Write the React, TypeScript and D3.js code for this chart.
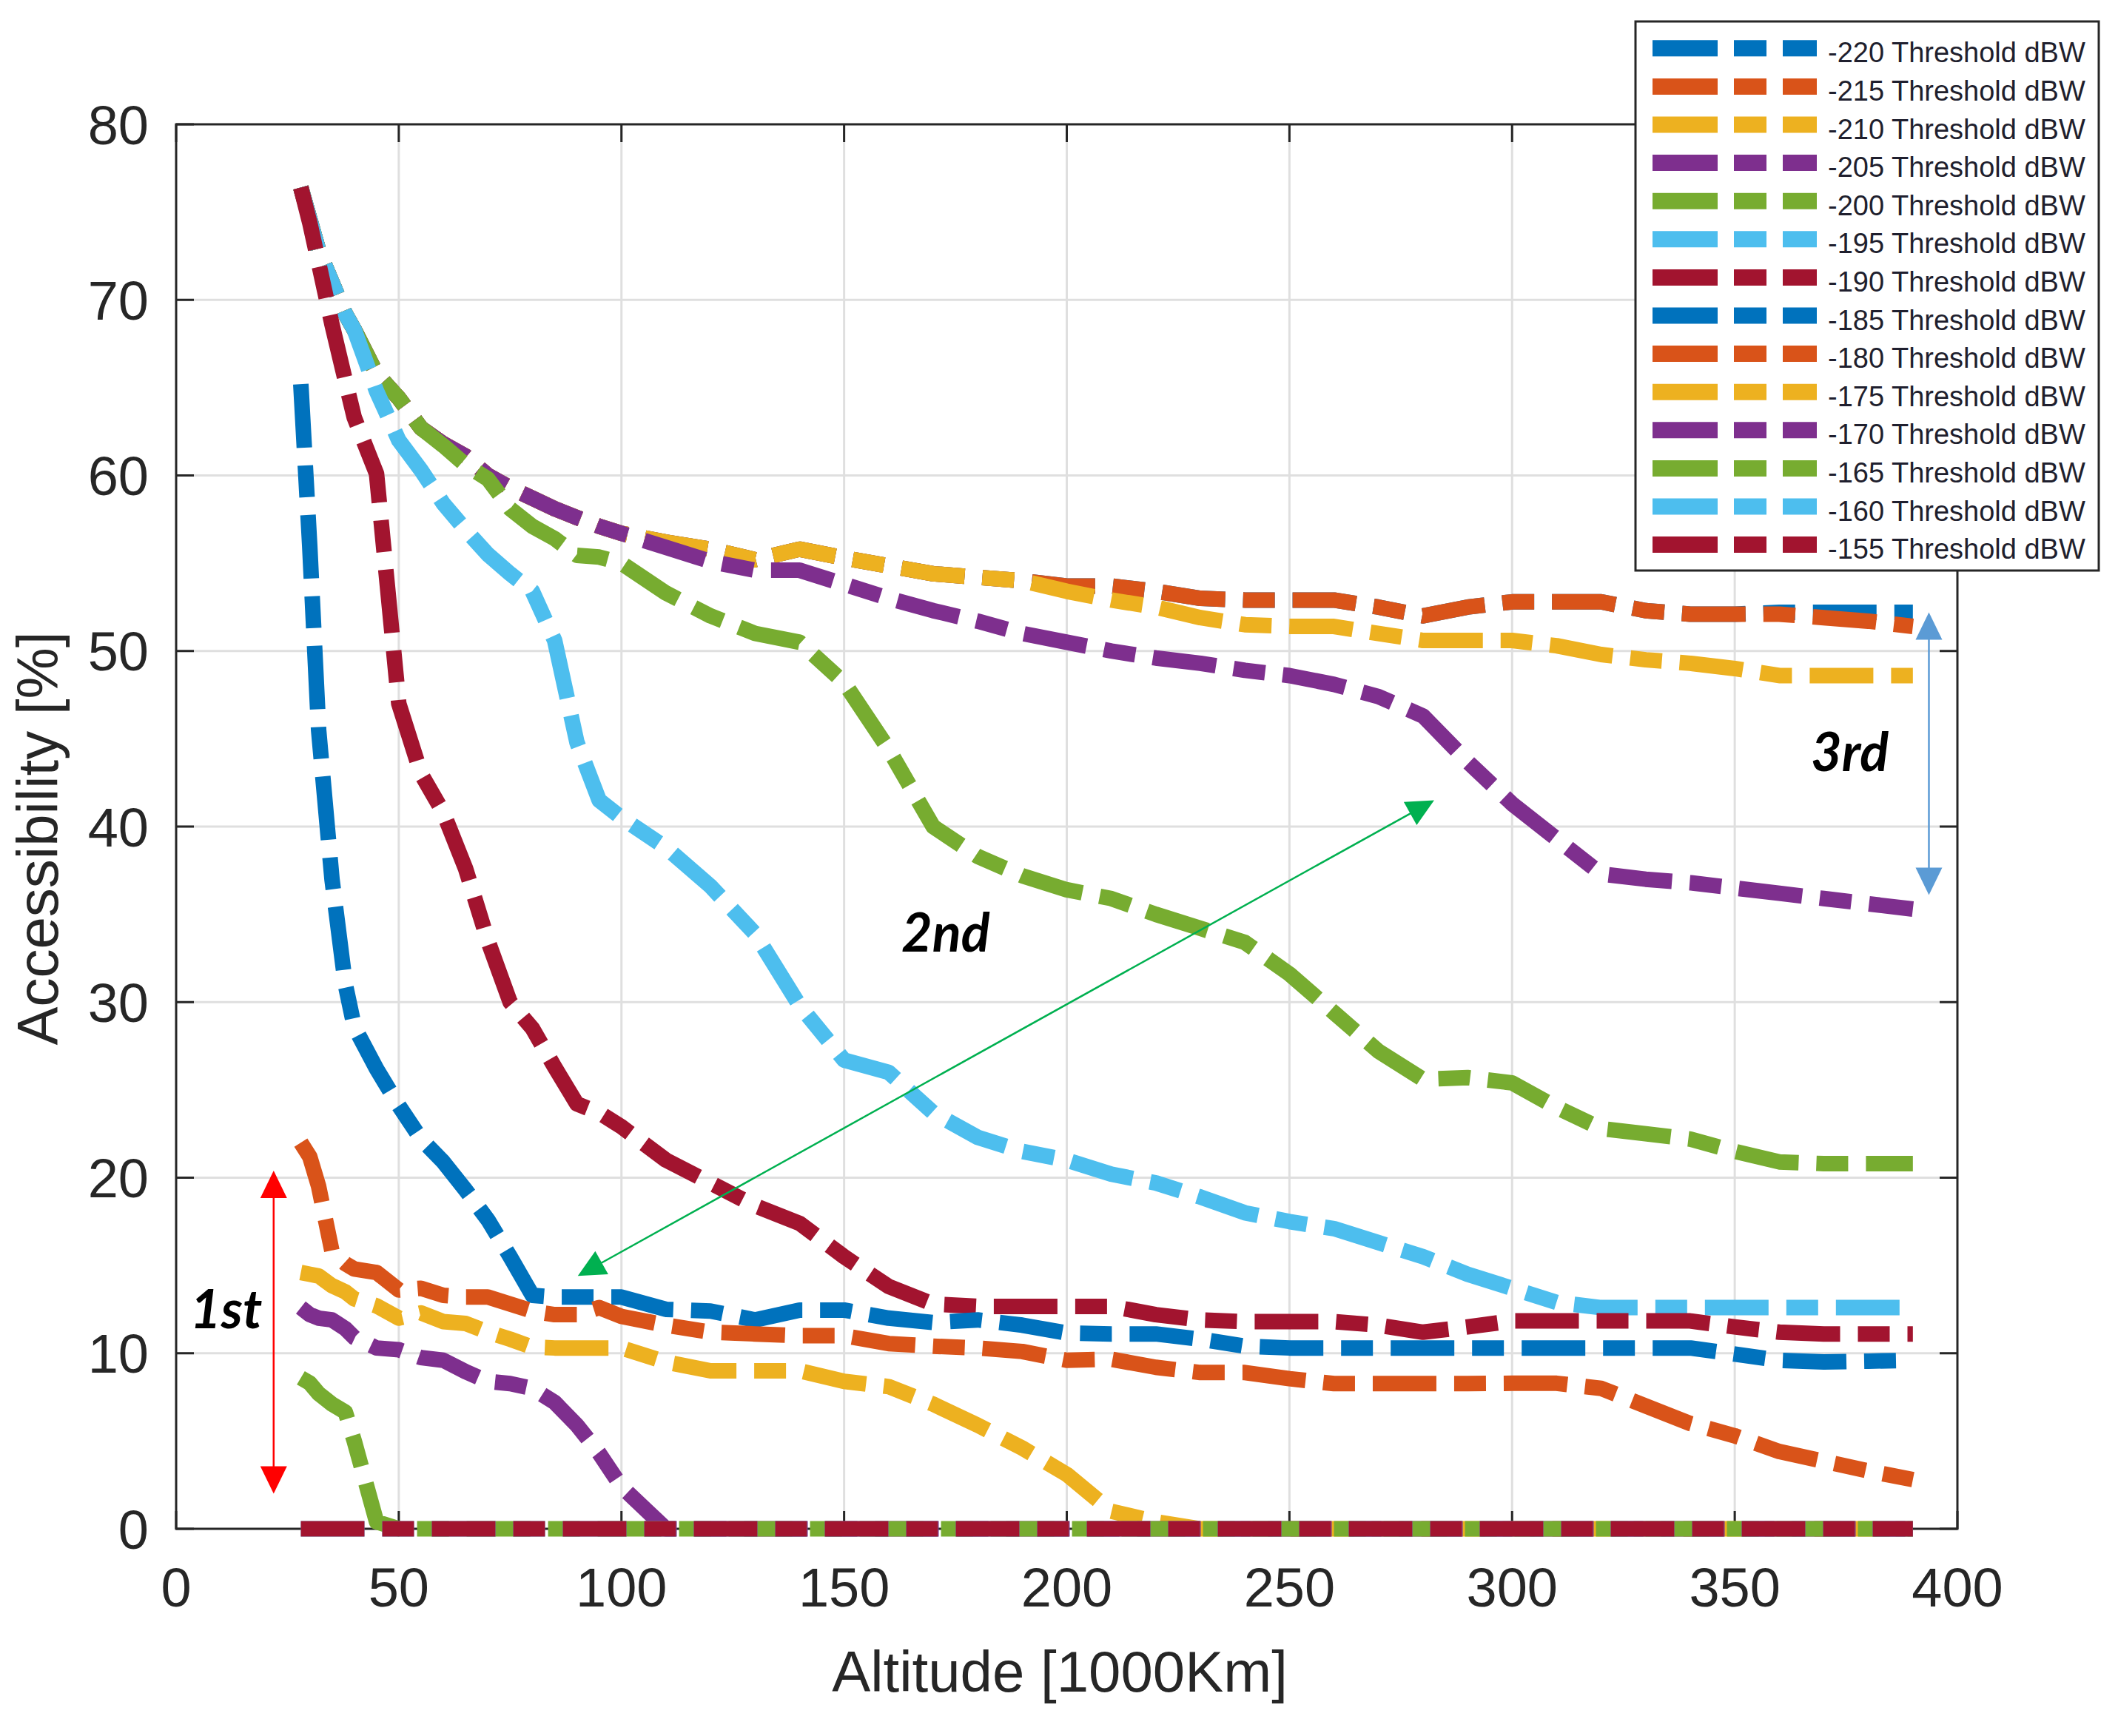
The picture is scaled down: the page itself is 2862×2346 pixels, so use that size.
import React from "react";
import * as d3 from "d3";

// altitude samples [1000 km]
const altitude = [
  28, 30, 32, 35, 38, 40, 45, 50, 55, 60, 65, 70, 75, 80, 85, 90, 95, 100, 110,
  120, 130, 140, 150, 160, 170, 180, 190, 200, 210, 220, 230, 240, 250, 260,
  270, 280, 290, 300, 310, 320, 330, 340, 350, 360, 370, 380, 390,
];

// accessibility [%] per threshold
const acc220 = [
  76.4, 74.6, 72.8, 71.0, 69.2, 68.3, 65.8, 64.4, 62.7, 61.8, 61.1, 60.0, 59.3,
  58.7, 58.1, 57.6, 57.1, 56.7, 56.2, 55.8, 55.2, 55.8, 55.3, 54.85, 54.4, 54.2,
  54.0, 53.7, 53.7, 53.4, 53.0, 52.9, 52.9, 52.9, 52.5, 52.0, 52.5, 52.8, 52.8,
  52.8, 52.3, 52.1, 52.1, 52.2, 52.2, 52.2, 52.2,
];
const acc215 = [
  76.4, 74.6, 72.8, 71.0, 69.2, 68.3, 65.8, 64.4, 62.7, 61.8, 61.1, 60.0, 59.3,
  58.7, 58.1, 57.6, 57.1, 56.7, 56.2, 55.8, 55.2, 55.8, 55.3, 54.85, 54.4, 54.2,
  54.0, 53.7, 53.7, 53.4, 53.0, 52.9, 52.9, 52.9, 52.5, 52.0, 52.5, 52.8, 52.8,
  52.8, 52.3, 52.1, 52.1, 52.1, 51.9, 51.7, 51.4,
];
const acc210 = [
  76.4, 74.6, 72.8, 71.0, 69.2, 68.3, 65.8, 64.4, 62.7, 61.8, 61.1, 60.0, 59.3,
  58.7, 58.1, 57.6, 57.1, 56.7, 56.2, 55.8, 55.2, 55.8, 55.3, 54.85, 54.4, 54.2,
  54.0, 53.4, 52.9, 52.5, 51.9, 51.5, 51.4, 51.4, 51.0, 50.6, 50.6, 50.6, 50.3,
  49.8, 49.5, 49.3, 49.0, 48.6, 48.6, 48.6, 48.6,
];
const acc205 = [
  76.4, 74.6, 72.8, 71.0, 69.2, 68.3, 65.8, 64.4, 62.7, 61.8, 61.1, 60.0, 59.3,
  58.7, 58.1, 57.6, 57.1, 56.7, 55.9, 55.1, 54.6, 54.6, 53.8, 53.0, 52.3, 51.7,
  51.0, 50.5, 50.0, 49.6, 49.3, 48.9, 48.6, 48.1, 47.4, 46.3, 43.7, 41.3, 39.3,
  37.3, 37.0, 36.8, 36.5, 36.2, 35.9, 35.6, 35.3,
];
const acc200 = [
  76.4, 74.6, 72.8, 71.0, 69.2, 68.3, 65.8, 64.4, 62.7, 61.7, 60.6, 59.8, 58.1,
  57.1, 56.4, 55.45, 55.35, 55.0, 53.3, 52.0, 51.0, 50.5, 48.2, 44.4, 40.0, 38.3,
  37.2, 36.4, 35.9, 35.0, 34.2, 33.4, 31.6, 29.4, 27.2, 25.6, 25.7, 25.4, 24.0,
  22.8, 22.5, 22.2, 21.5, 20.9, 20.8, 20.8, 20.8,
];
const acc195 = [
  76.4, 74.6, 72.8, 71.0, 69.2, 68.3, 64.8, 62.0, 60.3, 58.4, 56.9, 55.5, 54.4,
  53.4, 50.6, 44.8, 41.5, 40.5, 38.8, 36.6, 33.9, 29.8, 26.7, 26.0, 23.7, 22.3,
  21.5, 21.0, 20.2, 19.7, 18.9, 18.0, 17.5, 17.1, 16.3, 15.5, 14.5, 13.7, 12.9,
  12.6, 12.6, 12.6, 12.6, 12.6, 12.6, 12.6, 12.6,
];
const acc190 = [
  76.4, 74.4, 72.1, 68.6, 65.4, 63.3, 60.1, 47.0, 43.0, 40.8, 37.6, 33.5, 30.0,
  28.5, 26.3, 24.2, 23.7, 22.9, 21.0, 19.7, 18.4, 17.4, 15.5, 13.8, 12.8, 12.67,
  12.67, 12.67, 12.67, 12.2, 11.9, 11.8, 11.8, 11.8, 11.6, 11.2, 11.5, 11.84,
  11.84, 11.84, 11.84, 11.84, 11.5, 11.2, 11.1, 11.1, 11.1,
];
const acc185 = [
  65.2, 56.0, 45.5, 37.0, 31.0, 28.6, 26.2, 24.1, 22.2, 20.9, 19.3, 17.6, 15.5,
  13.3, 13.2, 13.2, 13.2, 13.2, 12.5, 12.4, 11.9, 12.46, 12.46, 12.0, 11.75,
  11.9, 11.6, 11.15, 11.1, 11.1, 10.8, 10.4, 10.3, 10.3, 10.3, 10.3, 10.3, 10.3,
  10.3, 10.3, 10.3, 10.3, 9.95, 9.6, 9.5, 9.55, 9.6,
];
const acc180 = [
  22.0, 21.2, 19.5, 15.8, 15.1, 14.8, 14.6, 13.6, 13.7, 13.3, 13.2, 13.2, 12.8,
  12.4, 12.2, 12.2, 12.6, 12.1, 11.6, 11.2, 11.1, 11.0, 11.0, 10.55, 10.4, 10.3,
  10.1, 9.6, 9.66, 9.2, 8.9, 8.9, 8.55, 8.27, 8.27, 8.27, 8.27, 8.29, 8.29, 8.0,
  7.0, 6.0, 5.3, 4.4, 3.85, 3.3, 2.8,
];
const acc175 = [
  14.6, 14.5, 14.4, 13.85, 13.5, 13.1, 12.7, 12.0, 12.3, 11.8, 11.7, 11.2, 10.8,
  10.35, 10.3, 10.3, 10.3, 10.3, 9.5, 9.0, 9.0, 9.0, 8.4, 8.1, 7.1, 5.9, 4.6,
  3.1, 1.0, 0.4, 0, 0, 0, 0, 0, 0, 0, 0, 0, 0, 0, 0, 0, 0, 0, 0, 0,
];
const acc170 = [
  12.6, 12.2, 12.0, 11.9, 11.4, 10.9, 10.3, 10.2, 9.75, 9.6, 8.95, 8.4, 8.27,
  8.0, 7.2, 5.9, 4.3, 2.4, 0, 0, 0, 0, 0, 0, 0, 0, 0, 0, 0, 0, 0, 0, 0, 0, 0, 0,
  0, 0, 0, 0, 0, 0, 0, 0, 0, 0, 0,
];
const acc165 = [
  8.6, 8.3, 7.7, 7.1, 6.65, 5.0, 0.4, 0, 0, 0, 0, 0, 0, 0, 0, 0, 0, 0, 0, 0, 0,
  0, 0, 0, 0, 0, 0, 0, 0, 0, 0, 0, 0, 0, 0, 0, 0, 0, 0, 0, 0, 0, 0, 0, 0, 0, 0,
];
const acc160 = [
  0, 0, 0, 0, 0, 0, 0, 0, 0, 0, 0, 0, 0, 0, 0, 0, 0, 0, 0, 0, 0, 0, 0, 0, 0, 0,
  0, 0, 0, 0, 0, 0, 0, 0, 0, 0, 0, 0, 0, 0, 0, 0, 0, 0, 0, 0, 0,
];
const acc155 = [
  0, 0, 0, 0, 0, 0, 0, 0, 0, 0, 0, 0, 0, 0, 0, 0, 0, 0, 0, 0, 0, 0, 0, 0, 0, 0,
  0, 0, 0, 0, 0, 0, 0, 0, 0, 0, 0, 0, 0, 0, 0, 0, 0, 0, 0, 0, 0,
];

const thresholds = [
  -220, -215, -210, -205, -200, -195, -190, -185, -180, -175, -170, -165, -160,
  -155,
];
const seriesValues = [
  acc220, acc215, acc210, acc205, acc200, acc195, acc190, acc185, acc180,
  acc175, acc170, acc165, acc160, acc155,
];
const palette = [
  "#0072BD", "#D95319", "#EDB120", "#7E2F8E", "#77AC30", "#4DBEEE", "#A2142F",
];

const xTicks = [0, 50, 100, 150, 200, 250, 300, 350, 400];
const yTicks = [0, 10, 20, 30, 40, 50, 60, 70, 80];

const W = 2862;
const H = 2346;
const AXIS = "#262626";
const FONT = "'Liberation Sans', Arial, Helvetica, sans-serif";
const DASH = "86 24 43 24";

const x = d3.scaleLinear().domain([0, 400]).range([238, 2645]);
const y = d3.scaleLinear().domain([0, 80]).range([2066, 168]);

const line = d3
  .line<number>()
  .x((_, i) => x(altitude[i]))
  .y((d) => y(d));

// double headed arrow between two data points
function Arrow({
  from,
  to,
  color,
}: {
  from: [number, number];
  to: [number, number];
  color: string;
}) {
  const x1 = x(from[0]);
  const y1 = y(from[1]);
  const x2 = x(to[0]);
  const y2 = y(to[1]);
  const len = Math.hypot(x2 - x1, y2 - y1);
  const ux = (x2 - x1) / len;
  const uy = (y2 - y1) / len;
  const hl = 37;
  const hw = 18;
  const head = (tx: number, ty: number, dx: number, dy: number) => {
    const bx = tx - dx * hl;
    const by = ty - dy * hl;
    return `${tx},${ty} ${bx - dy * hw},${by + dx * hw} ${bx + dy * hw},${by - dx * hw}`;
  };
  return (
    <g>
      <line
        x1={x1 + ux * hl * 0.8}
        y1={y1 + uy * hl * 0.8}
        x2={x2 - ux * hl * 0.8}
        y2={y2 - uy * hl * 0.8}
        stroke={color}
        strokeWidth={2.5}
      />
      <polygon points={head(x2, y2, ux, uy)} fill={color} />
      <polygon points={head(x1, y1, -ux, -uy)} fill={color} />
    </g>
  );
}

export default function App() {
  const [x0, x1] = x.range();
  const [y0, y1] = y.range();
  const legendX = 2210;
  const legendY = 29;
  const rowH = 51.6;

  return (
    <svg
      width={W}
      height={H}
      style={{ position: "absolute", left: 0, top: 0, background: "#fff" }}
    >
      <rect width={W} height={H} fill="#fff" />

      {/* grid */}
      <g stroke="#dfdfdf" strokeWidth={3}>
        {xTicks.slice(1, -1).map((t) => (
          <line key={"gx" + t} x1={x(t)} x2={x(t)} y1={y1} y2={y0} />
        ))}
        {yTicks.slice(1, -1).map((t) => (
          <line key={"gy" + t} x1={x0} x2={x1} y1={y(t)} y2={y(t)} />
        ))}
      </g>

      {/* axes box and inward ticks */}
      <g stroke={AXIS} strokeWidth={3}>
        <rect x={x0} y={y1} width={x1 - x0} height={y0 - y1} fill="none" />
        {xTicks.map((t) => (
          <g key={"tx" + t}>
            <line x1={x(t)} x2={x(t)} y1={y0} y2={y0 - 24} />
            <line x1={x(t)} x2={x(t)} y1={y1} y2={y1 + 24} />
          </g>
        ))}
        {yTicks.map((t) => (
          <g key={"ty" + t}>
            <line x1={x0} x2={x0 + 24} y1={y(t)} y2={y(t)} />
            <line x1={x1} x2={x1 - 24} y1={y(t)} y2={y(t)} />
          </g>
        ))}
      </g>

      <g fontFamily={FONT} fill={AXIS} fontSize={74}>
        {xTicks.map((t) => (
          <text key={"lx" + t} x={x(t)} y={2171} textAnchor="middle">
            {t}
          </text>
        ))}
        {yTicks.map((t) => (
          <text key={"ly" + t} x={201} y={y(t) + 26.5} textAnchor="end">
            {t}
          </text>
        ))}
        <text x={1432} y={2286} textAnchor="middle" fontSize={78}>
          Altitude [1000Km]
        </text>
        <text
          transform={`translate(78,1133) rotate(-90)`}
          textAnchor="middle"
          fontSize={78}
        >
          Accessibility [%]
        </text>
      </g>

      {/* data */}
      <g fill="none" strokeWidth={21} strokeDasharray={DASH} strokeLinejoin="round">
        {seriesValues.map((vals, i) => (
          <path key={thresholds[i]} d={line(vals) || ""} stroke={palette[i % 7]} />
        ))}
      </g>

      {/* annotations */}
      <Arrow from={[21.9, 20.4]} to={[21.9, 2.0]} color="#FF0000" />
      <Arrow from={[90.2, 14.4]} to={[282.5, 41.5]} color="#00B050" />
      <Arrow from={[393.6, 52.2]} to={[393.6, 36.1]} color="#5B9BD5" />
      <g
        fontFamily="Lato, 'Open Sans', sans-serif"
        fontWeight={700}
        fontStyle="italic"
        fontSize={72}
        fill="#000"
      >
        <text x={257} y={1795}>1st</text>
        <text x={1218} y={1286}>2nd</text>
        <text x={2447} y={1042}>3rd</text>
      </g>

      {/* legend */}
      <g>
        <rect
          x={legendX}
          y={legendY}
          width={626}
          height={742}
          fill="#fff"
          stroke={AXIS}
          strokeWidth={3}
        />
        {thresholds.map((t, i) => {
          const ry = 65.3 + i * rowH;
          return (
            <g key={"lg" + t}>
              <line
                x1={2233}
                x2={2455}
                y1={ry}
                y2={ry}
                stroke={palette[i % 7]}
                strokeWidth={22}
                strokeDasharray="88 22 44 22"
              />
              <text
                x={2470}
                y={ry + 19}
                fontFamily={FONT}
                fontSize={38}
                fill="#1f1f2e"
              >
                {`${t} Threshold dBW`}
              </text>
            </g>
          );
        })}
      </g>
    </svg>
  );
}
